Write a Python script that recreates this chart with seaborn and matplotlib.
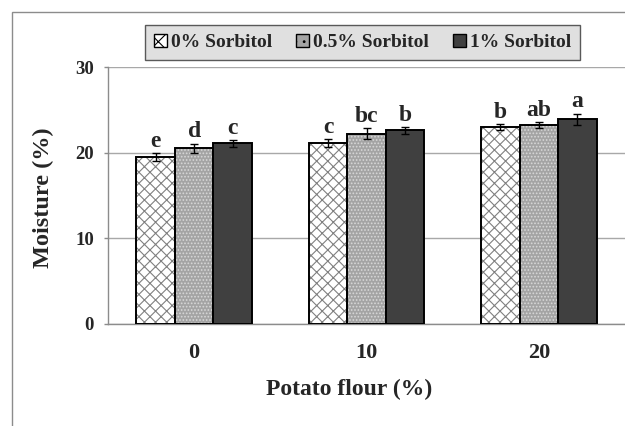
import matplotlib
matplotlib.use("Agg")
import matplotlib.pyplot as plt
from matplotlib.patches import Rectangle, Patch
import seaborn as sns
import pandas as pd

sns.set_theme(style="white")
plt.rcParams["font.family"] = ["Liberation Serif", "DejaVu Serif"]
plt.rcParams["font.weight"] = "bold"
plt.rcParams["hatch.linewidth"] = 0.8

flour = ["0", "10", "20"]
levels = ["0% Sorbitol", "0.5% Sorbitol", "1% Sorbitol"]

moist_0 = [19.5, 21.1, 23.0]
moist_05 = [20.5, 22.2, 23.2]
moist_1 = [21.1, 22.6, 23.9]

err_0 = [0.45, 0.45, 0.35]
err_05 = [0.55, 0.65, 0.35]
err_1 = [0.40, 0.40, 0.65]

let_0 = ["e", "c", "b"]
let_05 = ["d", "bc", "ab"]
let_1 = ["c", "b", "a"]

means = [moist_0, moist_05, moist_1]
errs = [err_0, err_05, err_1]
letters = [let_0, let_05, let_1]

rows = []
for lev, vals in zip(levels, means):
    for f, v in zip(flour, vals):
        rows.append({"flour": f, "sorbitol": lev, "moisture": v})
df = pd.DataFrame(rows)

# fill, hatch, hatch colour per sorbitol level
styles = [("white", "xxx", "#808080"),
          ("#a4a4a4", ".....", "#d8d8d8"),
          ("#404040", "", "#404040")]

fig = plt.figure(figsize=(6.25, 4.26), dpi=100)
ax = fig.add_axes([108 / 625, 1 - 324 / 426, 517 / 625, 257 / 426])

sns.barplot(data=df, x="flour", y="moisture", hue="sorbitol", order=flour,
            hue_order=levels, palette=[s[0] for s in styles], errorbar=None,
            width=0.67, legend=False, saturation=1, ax=ax)

for cont, (fc, hatch, hc), m, e, lab in zip(ax.containers, styles, means, errs, letters):
    for bar, v, er, t in zip(cont, m, e, lab):
        bar.set_facecolor(fc)
        bar.set_hatch(hatch)
        bar.set_edgecolor(hc)
        bar.set_linewidth(0)
        ax.add_patch(Rectangle(bar.get_xy(), bar.get_width(), bar.get_height(),
                               fill=False, edgecolor="black", linewidth=1.4, zorder=3))
        cx = bar.get_x() + bar.get_width() / 2
        ax.errorbar(cx, v, yerr=er, color="black", lw=1, capsize=3,
                    capthick=1, zorder=4)
        ax.text(cx, v + er + 0.15, t, ha="center", va="bottom",
                fontsize=17, fontweight="bold")

ax.set_xlim(-0.5, 2.5)
ax.set_ylim(0, 30)
ax.set_yticks([0, 10, 20, 30])
ax.yaxis.grid(True, color="#a8a8a8", lw=1)
ax.set_axisbelow(True)
for s in ["top", "right"]:
    ax.spines[s].set_visible(False)
for s in ["left", "bottom"]:
    ax.spines[s].set_color("#8c8c8c")
    ax.spines[s].set_linewidth(1)
ax.tick_params(axis="y", length=3.2, color="#8c8c8c", width=1, pad=7,
               labelsize=13.5, left=True)
ax.tick_params(axis="x", length=0, pad=14, labelsize=16)
for t in ax.get_xticklabels() + ax.get_yticklabels():
    t.set_fontweight("bold")

ax.set_ylabel("Moisture (%)", fontsize=17.5, fontweight="bold")
ax.yaxis.set_label_coords(-0.105, 0.49)
ax.set_xlabel("Potato flour (%)", fontsize=17, fontweight="bold")
ax.xaxis.set_label_coords(0.466, -0.215)

handles = [Patch(facecolor=fc, hatch=h[:2], edgecolor="black", linewidth=1)
           for fc, h, hc in styles]
leg = fig.legend(handles, levels, loc="center", bbox_to_anchor=(0.58, 0.9),
                 ncol=3, frameon=True, fancybox=False, fontsize=14,
                 handlelength=0.7, handleheight=0.7, handletextpad=0.2,
                 columnspacing=1.2, borderpad=0.45, borderaxespad=0)
leg.get_frame().set_facecolor("#d9d9d9")
leg.get_frame().set_edgecolor("#333333")
leg.get_frame().set_linewidth(1)
for t in leg.get_texts():
    t.set_fontweight("bold")

# outer chart frame, cut off at the right and bottom
fig.patches.append(Rectangle((11.7 / 625, -0.1), 1.2, 1.1 - 12.3 / 426,
                             transform=fig.transFigure, fill=False,
                             edgecolor="#8c8c8c", linewidth=1))

fig.savefig("out.png", dpi=100)
